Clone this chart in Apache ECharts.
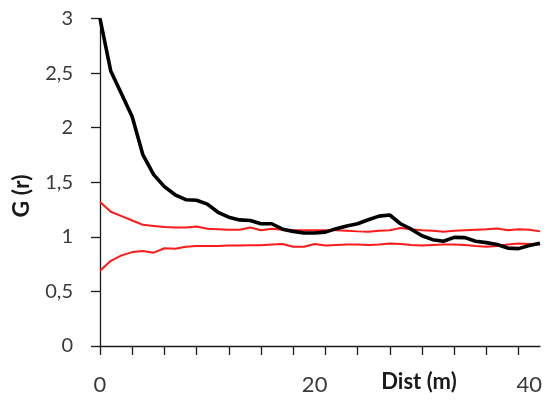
<!DOCTYPE html>
<html>
<head>
<meta charset="utf-8">
<script src="https://cdn.jsdelivr.net/npm/echarts@6/dist/echarts.min.js"></script>
<style>html,body{margin:0;padding:0;background:#fff}#c{width:547px;height:405px}</style>
</head>
<body>
<div id="c"></div>
<script>
// distance categories (m)
const dist = [0,1,2,3,4,5,6,7,8,9,10,11,12,13,14,15,16,17,18,19,20,21,22,23,24,25,26,27,28,29,30,31,32,33,34,35,36,37,38,39,40,41];
// observed G(r)
const gObs = [3.0,2.52,2.31,2.1,1.75,1.57,1.46,1.385,1.34,1.335,1.3,1.225,1.18,1.155,1.15,1.12,1.12,1.07,1.05,1.035,1.035,1.043,1.075,1.10,1.12,1.157,1.19,1.20,1.12,1.07,1.01,0.974,0.96,0.995,0.993,0.96,0.947,0.93,0.897,0.892,0.92,0.942];
// upper envelope
const gUpper = [1.32,1.23,1.19,1.15,1.11,1.10,1.09,1.085,1.085,1.095,1.075,1.07,1.065,1.065,1.085,1.06,1.075,1.065,1.06,1.06,1.06,1.06,1.06,1.055,1.05,1.046,1.055,1.06,1.08,1.07,1.06,1.055,1.046,1.055,1.06,1.065,1.07,1.077,1.06,1.07,1.065,1.05];
// lower envelope
const gLower = [0.69,0.78,0.83,0.86,0.87,0.855,0.895,0.89,0.91,0.915,0.915,0.915,0.92,0.92,0.922,0.924,0.93,0.935,0.91,0.91,0.935,0.92,0.925,0.93,0.93,0.925,0.93,0.94,0.935,0.925,0.92,0.925,0.93,0.93,0.925,0.915,0.91,0.915,0.93,0.94,0.935,0.93];
const yTicks = [0,0.5,1,1.5,2,2.5,3];

const chart = echarts.init(document.getElementById('c'), null, {renderer:'canvas'});
const ff = 'Lato, "Open Sans", sans-serif';
chart.setOption({
  animation:false,
  grid:{left:100, top:18.5, right:7, bottom:59},
  xAxis:{
    type:'category', data:dist, boundaryGap:false,
    axisLine:{lineStyle:{color:'#1a1a1a', width:1.3}},
    axisTick:{interval:2, length:9, lineStyle:{color:'#1a1a1a', width:1.3}},
    axisLabel:{interval:19, margin:28, fontSize:22, color:'#3a3a3a', fontFamily:ff},
    splitLine:{show:false}
  },
  yAxis:{
    type:'value', min:yTicks[0], max:yTicks[yTicks.length-1], interval:0.5,
    axisLine:{show:true, lineStyle:{color:'#1a1a1a', width:1.3}},
    axisTick:{show:true, length:9, lineStyle:{color:'#1a1a1a', width:1.3}},
    axisLabel:{margin:27, fontSize:20, color:'#3a3a3a', fontFamily:ff,
      formatter:v=>String(v).replace('.',',')},
    splitLine:{show:false}
  },
  graphic:[
    {type:'text', x:419, y:382, style:{text:'Dist (m)', font:'bold 22px '+ff, fill:'#1a1a1a', textAlign:'center', textVerticalAlign:'middle'}},
    {type:'text', x:22, y:196, rotation:Math.PI/2, style:{text:'G (r)', font:'bold 23px '+ff, fill:'#1a1a1a', textAlign:'center', textVerticalAlign:'middle'}}
  ],
  series:[
    {type:'line', data:gUpper, symbol:'none', lineStyle:{color:'#ff1a1a', width:2}, z:2},
    {type:'line', data:gLower, symbol:'none', lineStyle:{color:'#ff1a1a', width:2}, z:2},
    {type:'line', data:gObs, symbol:'none', lineStyle:{color:'#000', width:3.6}, z:3}
  ]
});
</script>
</body>
</html>
